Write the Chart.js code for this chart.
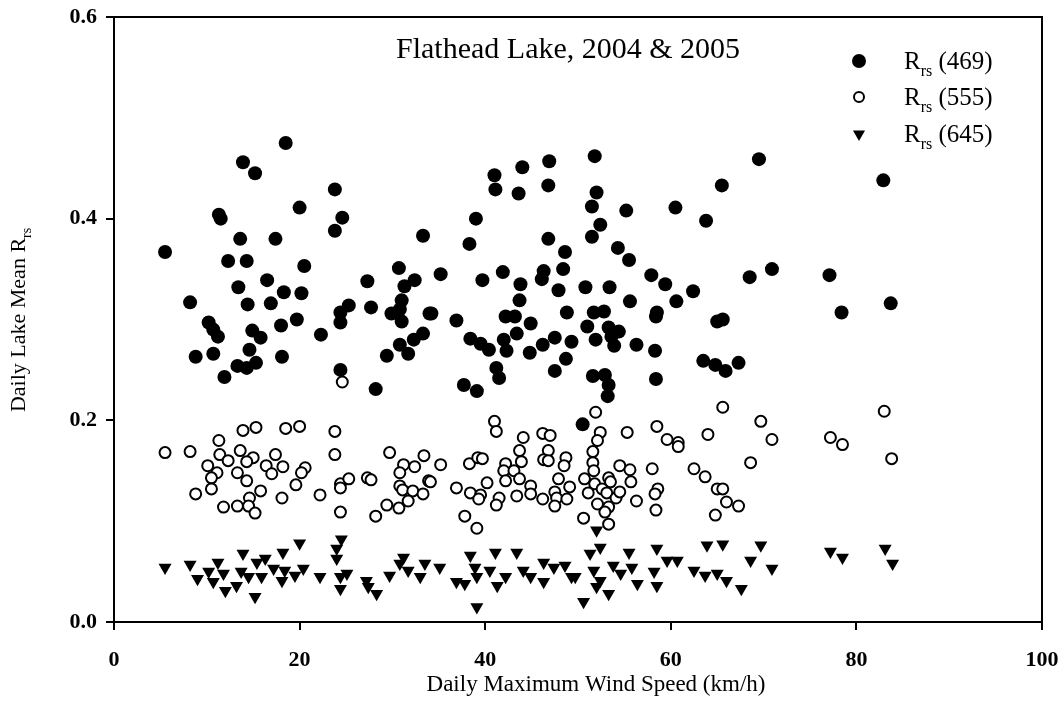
<!DOCTYPE html>
<html lang="en">
<head>
    <meta charset="UTF-8">
    <title>Flathead Lake Rrs vs wind speed</title>
    <script src="https://cdn.jsdelivr.net/npm/chart.js"></script>
    <style>
        body { margin: 0; background: #fff; }
        #wrap { width: 1064px; height: 721px; }
    </style>
</head>
<body>
<div id="wrap"><canvas id="myChart" width="1064" height="721"></canvas></div>
<script>
    // daily max wind speed (km/h) and lake mean Rrs
    var rrs469 = [
        [18.5,0.475],[13.9,0.456],[15.2,0.445],[23.8,0.429],[20.0,0.411],[11.3,0.404],[11.5,0.400],[24.6,0.401],
        [23.8,0.388],[33.3,0.383],[5.5,0.367],[13.6,0.380],[17.4,0.380],[12.3,0.358],[14.3,0.358],[20.5,0.353],
        [16.5,0.339],[27.3,0.338],[30.7,0.351],[32.4,0.339],[31.3,0.333],[13.4,0.332],[18.3,0.327],[20.2,0.326],
        [8.2,0.317],[14.4,0.315],[16.9,0.316],[25.3,0.314],[24.4,0.307],[27.7,0.312],[31.0,0.319],[30.8,0.310],
        [29.9,0.306],[34.0,0.306],[19.7,0.300],[18.0,0.294],[10.2,0.297],[10.7,0.290],[11.2,0.283],[31.0,0.298],
        [24.4,0.297],[14.9,0.289],[15.8,0.282],[22.3,0.285],[33.3,0.286],[32.3,0.280],[30.8,0.275],[31.7,0.266],
        [29.4,0.264],[14.6,0.270],[8.8,0.263],[10.7,0.266],[18.1,0.263],[13.3,0.254],[14.3,0.252],[15.3,0.257],
        [11.9,0.243],[24.4,0.250],[28.2,0.231],
        [51.8,0.462],[46.9,0.457],[44.0,0.451],[41.0,0.443],[41.1,0.429],[43.6,0.425],[46.8,0.433],[65.5,0.433],
        [52.0,0.426],[51.5,0.412],[55.2,0.408],[60.5,0.411],[63.8,0.398],[39.0,0.400],[52.4,0.394],[38.3,0.375],
        [46.8,0.380],[51.5,0.382],[48.6,0.367],[54.3,0.371],[55.5,0.359],[35.2,0.345],[39.7,0.339],[41.9,0.347],
        [46.3,0.348],[46.1,0.340],[48.4,0.350],[57.9,0.344],[59.4,0.335],[62.4,0.328],[43.8,0.335],[47.9,0.329],
        [50.8,0.332],[53.4,0.332],[43.7,0.319],[55.6,0.318],[60.6,0.318],[34.2,0.306],[36.9,0.299],[48.8,0.307],
        [51.7,0.307],[52.8,0.308],[58.5,0.307],[58.4,0.303],[42.2,0.303],[43.2,0.303],[44.9,0.296],[65.0,0.298],
        [65.6,0.300],[51.0,0.293],[53.3,0.292],[54.4,0.288],[53.6,0.283],[43.4,0.286],[38.4,0.281],[39.5,0.276],
        [40.4,0.270],[42.0,0.280],[42.3,0.269],[47.5,0.282],[46.2,0.275],[44.8,0.267],[49.3,0.278],[51.9,0.280],
        [53.9,0.274],[56.3,0.275],[58.3,0.269],[48.7,0.261],[63.5,0.259],[64.8,0.255],[65.9,0.249],[67.3,0.257],
        [41.2,0.252],[41.5,0.242],[47.5,0.249],[51.6,0.244],[52.9,0.245],[53.3,0.235],[53.2,0.224],[58.4,0.241],
        [37.7,0.235],[39.1,0.229],[50.5,0.196],
        [69.5,0.459],[82.9,0.438],[68.5,0.342],[70.9,0.350],[77.1,0.344],[83.7,0.316],[78.4,0.307]
    ];

    var rrs555 = [
        [24.6,0.238],
        [13.9,0.190],[15.3,0.193],[18.5,0.192],[20.0,0.194],[23.8,0.189],[11.3,0.180],[5.5,0.168],[8.2,0.169],
        [23.8,0.166],[29.7,0.168],[33.4,0.165],[11.4,0.166],[13.6,0.170],[15.0,0.163],[12.3,0.160],[14.3,0.159],
        [17.4,0.166],[16.4,0.155],[18.2,0.154],[10.1,0.155],[11.1,0.148],[10.5,0.143],[13.3,0.148],[17.0,0.147],
        [20.6,0.153],[20.2,0.148],[31.2,0.156],[32.4,0.154],[30.8,0.148],[33.9,0.140],[14.3,0.140],[19.6,0.136],
        [24.4,0.137],[25.3,0.142],[24.4,0.133],[27.3,0.143],[27.7,0.141],[30.8,0.135],[31.1,0.131],[32.2,0.130],
        [33.3,0.127],[8.8,0.127],[10.5,0.132],[15.8,0.130],[14.6,0.123],[18.1,0.123],[22.2,0.126],[11.8,0.114],
        [13.3,0.115],[14.5,0.115],[15.2,0.108],[24.4,0.109],[28.2,0.105],[29.4,0.116],[30.7,0.113],[31.7,0.120],
        [65.6,0.213],[51.9,0.208],[41.0,0.199],[41.2,0.189],[52.4,0.188],[55.3,0.188],[58.5,0.194],[64.0,0.186],
        [44.1,0.183],[46.2,0.187],[47.0,0.185],[52.1,0.180],[59.6,0.181],[60.8,0.178],[60.8,0.174],[35.2,0.156],
        [38.3,0.157],[39.2,0.163],[39.7,0.162],[43.7,0.170],[43.9,0.159],[42.2,0.157],[46.8,0.170],[46.3,0.161],
        [46.8,0.160],[48.7,0.163],[48.5,0.155],[51.6,0.169],[51.6,0.158],[51.7,0.150],[54.5,0.155],[55.6,0.151],
        [58.0,0.152],[62.5,0.152],[63.7,0.144],[34.1,0.139],[42.0,0.150],[43.1,0.150],[42.2,0.140],[43.7,0.142],
        [40.2,0.138],[47.9,0.142],[49.1,0.134],[50.7,0.142],[53.3,0.143],[53.5,0.139],[55.7,0.139],[51.8,0.137],
        [52.6,0.132],[44.9,0.135],[36.9,0.133],[38.4,0.128],[39.5,0.126],[39.3,0.122],[41.5,0.123],[41.2,0.116],
        [43.4,0.125],[44.9,0.127],[46.2,0.122],[47.5,0.129],[47.7,0.123],[47.5,0.115],[48.8,0.122],[51.1,0.128],
        [52.1,0.117],[53.1,0.128],[54.1,0.123],[54.5,0.129],[53.3,0.114],[52.9,0.109],[53.3,0.097],[56.3,0.120],
        [58.6,0.132],[58.3,0.127],[58.4,0.111],[65.0,0.132],[65.6,0.132],[66.0,0.119],[67.3,0.115],[64.8,0.106],
        [37.8,0.105],[39.1,0.093],[50.6,0.103],
        [83.0,0.209],[69.7,0.199],[70.9,0.181],[77.2,0.183],[78.5,0.176],[68.6,0.158],[83.8,0.162]
    ];

    var rrs645 = [
        [5.5,0.054],[8.2,0.057],[9.0,0.043],[10.2,0.050],[10.7,0.040],[11.2,0.059],[12.0,0.031],[11.8,0.048],
        [13.2,0.036],[13.9,0.068],[13.7,0.050],[14.5,0.045],[15.4,0.059],[15.2,0.025],[16.3,0.063],[15.9,0.045],
        [17.2,0.053],[18.2,0.069],[18.1,0.041],[18.4,0.051],[20.0,0.078],[20.4,0.053],[19.5,0.046],[22.2,0.045],
        [24.5,0.082],[24.0,0.073],[24.0,0.063],[25.1,0.048],[24.4,0.033],[24.4,0.045],[27.2,0.041],[27.4,0.035],
        [28.3,0.028],[29.7,0.046],[30.8,0.058],[31.2,0.064],[31.7,0.051],[33.0,0.045],[33.5,0.058],[35.1,0.054],
        [36.9,0.040],[37.8,0.038],[38.4,0.066],[39.1,0.045],[39.1,0.015],[38.9,0.054],[41.1,0.069],[40.5,0.051],
        [41.3,0.036],[42.2,0.045],[43.4,0.069],[44.1,0.051],[44.9,0.045],[46.3,0.059],[46.3,0.040],[47.4,0.054],
        [48.6,0.056],[49.3,0.045],
        [52.0,0.091],[52.4,0.074],[51.3,0.068],[50.6,0.020],[49.7,0.045],[51.7,0.051],[52.4,0.041],[53.3,0.028],
        [52.0,0.035],[53.8,0.056],[54.6,0.048],[55.5,0.069],[56.4,0.038],[55.8,0.054],[58.5,0.073],[58.2,0.050],
        [58.5,0.036],[59.6,0.061],[60.7,0.061],[62.5,0.051],[63.7,0.046],[63.9,0.076],[65.6,0.077],[65.0,0.048],
        [66.0,0.041],[67.6,0.033],[68.6,0.061],[69.7,0.076],[70.9,0.053],[77.2,0.070],[78.5,0.064],[83.1,0.073],
        [83.9,0.058]
    ];

    var xTicks = [0, 20, 40, 60, 80, 100];
    var yTicks = [0.0, 0.2, 0.4, 0.6];
    var legendLabels = ['(469)', '(555)', '(645)'];
    var chartTitle = 'Flathead Lake, 2004 & 2005';
    var xTitle = 'Daily Maximum Wind Speed (km/h)';
    var yTitle = 'Daily Lake Mean R';

    var SERIF = '"Liberation Serif", "DejaVu Serif", serif';

    function toPoints(arr) {
        return arr.map(function (p) { return { x: p[0], y: p[1] }; });
    }

    var data = {
        datasets: [{
            label: 'Rrs (469)',
            data: toPoints(rrs469),
            pointStyle: 'circle',
            pointRadius: 7,
            backgroundColor: '#000',
            borderColor: '#000',
            borderWidth: 0,
            order: 2
        }, {
            label: 'Rrs (555)',
            data: toPoints(rrs555),
            pointStyle: 'circle',
            pointRadius: 5.5,
            backgroundColor: '#fff',
            borderColor: '#000',
            borderWidth: 2,
            order: 1
        }, {
            label: 'Rrs (645)',
            data: toPoints(rrs645),
            pointStyle: 'triangle',
            rotation: 180,
            pointRadius: 7.5,
            backgroundColor: '#000',
            borderColor: '#000',
            borderWidth: 0,
            order: 3
        }]
    };

    // text with a subscript: main part, sub part, rest
    function subText(ctx, x, y, main, sub, rest, size) {
        ctx.font = size + 'px ' + SERIF;
        ctx.fillText(main, x, y);
        x += ctx.measureText(main).width;
        ctx.font = Math.round(size * 0.62) + 'px ' + SERIF;
        ctx.fillText(sub, x, y + size * 0.28);
        x += ctx.measureText(sub).width;
        if (rest) {
            ctx.font = size + 'px ' + SERIF;
            ctx.fillText(rest, x, y);
        }
    }

    var decor = {
        id: 'decor',
        beforeDraw: function (chart) {
            var ctx = chart.ctx;
            ctx.save();
            ctx.fillStyle = '#fff';
            ctx.fillRect(0, 0, chart.width, chart.height);
            ctx.restore();
        },
        afterDraw: function (chart) {
            var ctx = chart.ctx;
            var a = chart.chartArea;
            ctx.save();
            // frame
            ctx.strokeStyle = '#000';
            ctx.lineWidth = 2;
            ctx.strokeRect(a.left, a.top, a.right - a.left, a.bottom - a.top);

            ctx.fillStyle = '#000';
            ctx.textBaseline = 'alphabetic';
            ctx.textAlign = 'left';
            ctx.font = '30px ' + SERIF;
            ctx.fillText(chartTitle, 396, 58);

            // legend
            var ys = [61, 97, 134];
            chart.data.datasets.forEach(function (ds, i) {
                ctx.fillStyle = ds.backgroundColor;
                ctx.strokeStyle = ds.borderColor;
                ctx.lineWidth = ds.borderWidth;
                Chart.helpers.drawPoint(ctx, {
                    pointStyle: ds.pointStyle,
                    rotation: ds.rotation || 0,
                    radius: i === 1 ? 5 : 7,
                    borderWidth: ds.borderWidth
                }, 859, ys[i]);
                ctx.fillStyle = '#000';
                subText(ctx, 904, ys[i] + 8, 'R', 'rs', ' ' + legendLabels[i], 25);
            });

            // x axis title
            ctx.textAlign = 'center';
            ctx.font = '23px ' + SERIF;
            ctx.fillText(xTitle, 596, 691);

            // y axis title
            ctx.translate(25, 320);
            ctx.rotate(-Math.PI / 2);
            ctx.textAlign = 'left';
            ctx.font = '22px ' + SERIF;
            var w = ctx.measureText(yTitle).width + 10;
            subText(ctx, -w / 2, 0, yTitle, 'rs', '', 22);
            ctx.restore();
        }
    };

    var config = {
        type: 'scatter',
        data: data,
        options: {
            responsive: false,
            animation: false,
            layout: { padding: { left: 0, right: 22, top: 17, bottom: 0 } },
            plugins: {
                legend: { display: false },
                tooltip: { enabled: false }
            },
            scales: {
                x: {
                    type: 'linear',
                    min: 0,
                    max: 100,
                    afterBuildTicks: function (scale) {
                        scale.ticks = xTicks.map(function (v) { return { value: v }; });
                    },
                    afterFit: function (scale) {
                        scale.height = 99;
                        scale.paddingLeft = 0;
                        scale.paddingRight = 0;
                    },
                    grid: { drawOnChartArea: false, drawTicks: true, tickLength: 8, color: '#000', lineWidth: 2 },
                    border: { display: true, color: '#000', width: 2 },
                    ticks: {
                        color: '#000',
                        padding: 17,
                        maxRotation: 0,
                        font: { family: SERIF, size: 22, weight: 'bold' }
                    }
                },
                y: {
                    type: 'linear',
                    min: 0,
                    max: 0.6,
                    afterBuildTicks: function (scale) {
                        scale.ticks = yTicks.map(function (v) { return { value: v }; });
                    },
                    afterFit: function (scale) {
                        scale.width = 114;
                        scale.paddingTop = 0;
                        scale.paddingBottom = 0;
                    },
                    grid: { drawOnChartArea: false, drawTicks: true, tickLength: 8, color: '#000', lineWidth: 2 },
                    border: { display: true, color: '#000', width: 2 },
                    ticks: {
                        color: '#000',
                        padding: 9,
                        font: { family: SERIF, size: 22, weight: 'bold' },
                        callback: function (v) { return Number(v).toFixed(1); }
                    }
                }
            }
        },
        plugins: [decor]
    };

    var myChart = new Chart(document.getElementById('myChart'), config);
</script>
</body>
</html>
